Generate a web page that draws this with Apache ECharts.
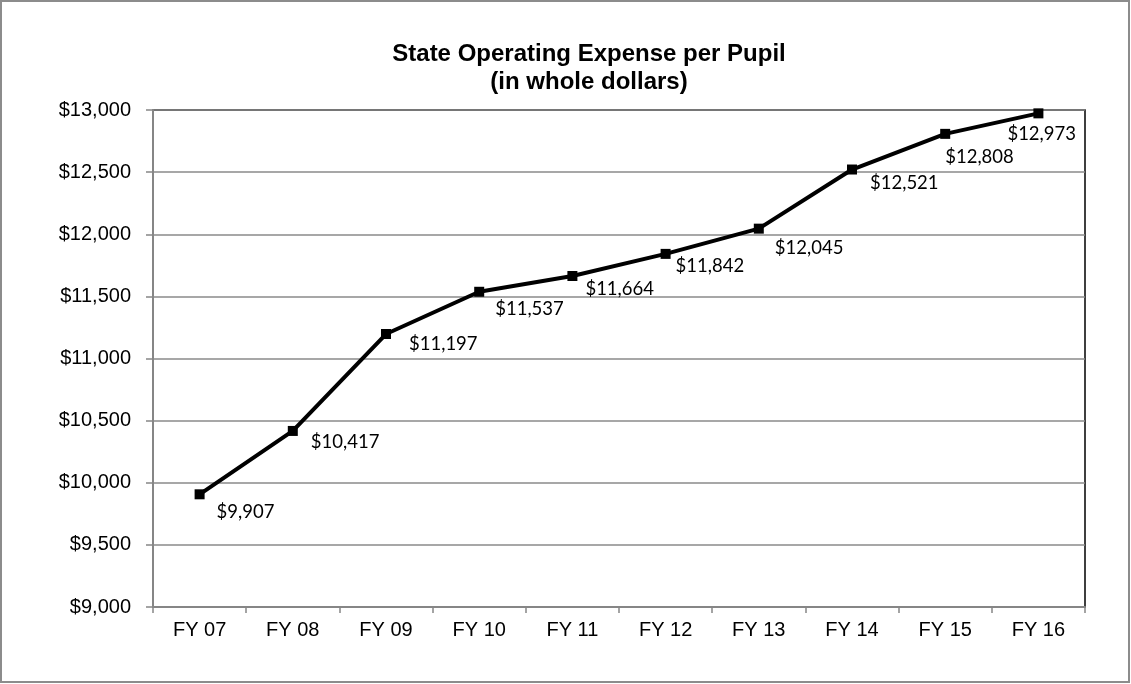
<!DOCTYPE html>
<html><head><meta charset="utf-8">
<script src="https://cdn.jsdelivr.net/npm/echarts@6/dist/echarts.min.js"></script>
<style>html,body{margin:0;padding:0;background:#fff}#c{width:1131px;height:684px}</style>
</head><body><div id="c"></div>
<script>
const categories = ['FY 07','FY 08','FY 09','FY 10','FY 11','FY 12','FY 13','FY 14','FY 15','FY 16'];
const values = [9907, 10417, 11197, 11537, 11664, 11842, 12045, 12521, 12808, 12973];
const labelOffsets = [[17,18],[18,11],[23,10],[16,17],[13,13],[10,12],[16,19],[18,14],[0,23],[-31,21]];
const yMin = 9000, yMax = 13000, yStep = 500;

const fmt = v => '$' + v.toLocaleString('en-US');
const chart = echarts.init(document.getElementById('c'));
chart.setOption({
  animation: false,
  backgroundColor: '#fff',
  graphic: [{type:'rect', shape:{x:1,y:1,width:1128,height:681}, style:{fill:'none', stroke:'#8c8c8c', lineWidth:2}, z:-1}],
  title: {
    text: 'State Operating Expense per Pupil\n(in whole dollars)',
    left: 584, top: 35, textAlign: 'center',
    textStyle: {fontFamily:'Liberation Sans, Arial', fontWeight:'bold', fontSize:24, color:'#000', lineHeight:28}
  },
  grid: {left:153, right:46, top:110, bottom:77, show:true, borderColor:'#000', borderWidth:1.5, containLabel:false},
  xAxis: {
    type:'category', data: categories, boundaryGap:true,
    axisLine:{lineStyle:{color:'#868686', width:2}},
    axisTick:{show:true, alignWithLabel:false, length:6, lineStyle:{color:'#868686', width:1.5}},
    axisLabel:{color:'#000', fontFamily:'Liberation Sans, Arial', fontSize:20, margin:13},
    splitLine:{show:false}
  },
  yAxis: {
    type:'value', min:yMin, max:yMax, interval:yStep,
    axisLine:{show:true, lineStyle:{color:'#868686', width:2}},
    axisTick:{show:true, length:7, lineStyle:{color:'#868686', width:1.5}},
    axisLabel:{color:'#000', fontFamily:'Liberation Sans, Arial', fontSize:20, margin:22, formatter: v => fmt(v)},
    splitLine:{show:true, lineStyle:{color:'#8a8a8a', width:1.5}}
  },
  series: [{
    type:'line', data: values.map((v,i)=>({value:v, label:{offset:labelOffsets[i]}})),
    symbol:'rect', symbolSize:10,
    lineStyle:{color:'#000', width:4},
    itemStyle:{color:'#000'},
    label:{show:true, position:'inside', align:'left', verticalAlign:'middle', color:'#000',
      fontFamily:'Lato', fontSize:18.5, formatter: p => fmt(p.value)}
  }]
});
</script></body></html>
